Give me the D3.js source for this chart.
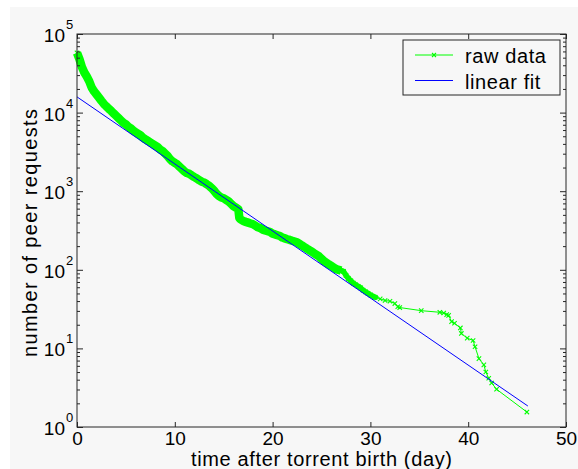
<!DOCTYPE html>
<html>
<head>
<meta charset="utf-8">
<script src="https://cdn.jsdelivr.net/npm/d3@7"></script>
<style>
  body { margin: 0; background: #fff; }
  text { font-family: "Liberation Sans", Arial, sans-serif; fill: #000; }
</style>
</head>
<body>
<svg width="578" height="469"></svg>
<script>
// raw data (day, number of peer requests)
var rawDays = [0, 0.25, 0.5, 0.75, 1, 1.25, 1.5, 1.75, 2, 2.25, 2.5, 2.75, 3, 3.25, 3.5, 3.75,
  4, 4.25, 4.5, 4.75, 5, 5.25, 5.5, 5.75, 6, 6.25, 6.5, 6.75, 7, 7.25, 7.5, 7.75,
  8, 8.25, 8.5, 8.75, 9, 9.25, 9.5, 9.75, 10, 10.25, 10.5, 10.75, 11, 11.25, 11.5, 11.75,
  12, 12.25, 12.5, 12.75, 13, 13.25, 13.5, 13.75, 14, 14.25, 14.5, 14.75, 15, 15.25, 15.5, 15.75,
  16, 16.25, 16.5, 16.6, 16.75, 17, 17.25, 17.5, 17.75, 18, 18.25, 18.5, 18.75, 19, 19.25, 19.5, 19.75,
  20, 20.25, 20.5, 20.75, 21, 21.25, 21.5, 21.75, 22, 22.25, 22.5, 22.75, 23, 23.25, 23.5, 23.75,
  24, 24.25, 24.5, 24.75, 25, 25.25, 25.5, 25.75, 26, 26.25, 26.5, 26.75, 27, 27.25, 27.5, 27.75,
  28, 28.25, 28.5, 28.75, 29, 29.25, 29.5, 29.75, 30, 30.5, 31, 31.5, 32, 32.5, 32.8, 33,
  35.2, 37.1, 37.5, 37.8, 38, 38.3, 38.6, 39.2, 39.3, 39.9, 40.5, 40.7, 41.1, 41.6, 41.8,
  42.1, 42.4, 42.9, 46];
var rawCounts = [57500, 47900, 38000, 32400, 28800, 25100, 20900, 18600, 17000, 15500, 14100, 12900, 12000, 11200, 10500, 9770,
  9120, 8510, 7940, 7410, 7080, 6610, 6310, 5890, 5620, 5370, 5130, 4790, 4570, 4370, 4170, 3980,
  3800, 3630, 3390, 3240, 3020, 2820, 2570, 2400, 2290, 2190, 2040, 1910, 1780, 1700, 1660, 1580,
  1510, 1450, 1380, 1320, 1290, 1230, 1170, 1100, 1020, 933, 871, 832, 813, 776, 741, 692,
  646, 617, 589, 457, 437, 417, 407, 398, 389, 380, 363, 347, 339, 324, 316, 309, 302,
  288, 282, 275, 269, 257, 251, 245, 240, 234, 229, 224, 214, 204, 195, 186, 178,
  170, 162, 155, 148, 138, 129, 123, 117, 112, 107, 102, 100, 97.7, 95.5, 85.1, 77.6,
  72.4, 67.6, 64.6, 61.7, 58.9, 55.0, 52.5, 50.1, 47.9, 44.7, 42.7, 40.7, 39.8, 37.2, 33.9, 33.1,
  30.2, 28.8, 28.2, 26.9, 26.3, 21.9, 20.9, 18.2, 15.5, 13.5, 12.6, 10.5, 7.41, 6.17, 5.01,
  4.17, 3.63, 3.02, 1.55];

// linear fit (straight line on the log axis), its two ends
var fitDays = [0, 46.1];
var fitCounts = [15850, 1.85];

var xTicks = [0, 10, 20, 30, 40, 50];
var yExponents = [0, 1, 2, 3, 4, 5];
var legendLabels = ["raw data", "linear fit"];

var svg = d3.select("svg");
var plotL = 77, plotR = 566, plotT = 34, plotB = 427;

var x = d3.scaleLinear().domain([0, 50]).range([plotL, plotR]);
var y = d3.scaleLog().domain([1, 1e5]).range([plotB, plotT]);

// figure background
svg.append("rect").attr("x", 10).attr("y", 7).attr("width", 568).attr("height", 462)
  .attr("fill", "#f7f7f7");

var raw = rawDays.map(function(d, i) { return { x: d, y: rawCounts[i] }; });
var fit = fitDays.map(function(d, i) { return { x: d, y: fitCounts[i] }; });

var line = d3.line()
  .x(function(d) { return x(d.x); })
  .y(function(d) { return y(d.y); });

// dense part of the raw series: overlapping markers make a thick band
function band(from, to, w, cap) {
  svg.append("path")
    .datum(raw.filter(function(d) { return d.x >= from && d.x <= to; }))
    .attr("d", line)
    .attr("fill", "none")
    .attr("stroke", "#00ff00")
    .attr("stroke-width", w)
    .attr("stroke-linejoin", "round")
    .attr("stroke-linecap", cap);
}
band(0, 27, 8.5, "butt");
band(26.5, 30.5, 5.5, "round");

svg.append("path")
  .datum(raw)
  .attr("d", line)
  .attr("fill", "none")
  .attr("stroke", "#00ff00")
  .attr("stroke-width", 1);

function cross(g, cx, cy, s) {
  g.append("path")
    .attr("d", "M" + (cx - s) + "," + (cy - s) + "L" + (cx + s) + "," + (cy + s) +
               "M" + (cx - s) + "," + (cy + s) + "L" + (cx + s) + "," + (cy - s))
    .attr("stroke", "#00ff00")
    .attr("stroke-width", 1.1)
    .attr("fill", "none");
}

var markers = svg.append("g");
raw.forEach(function(d) { cross(markers, x(d.x), y(d.y), 2.2); });

svg.append("path")
  .datum(fit)
  .attr("d", line)
  .attr("fill", "none")
  .attr("stroke", "#0000ff")
  .attr("stroke-width", 1);

// axes box
svg.append("rect").attr("x", plotL).attr("y", plotT)
  .attr("width", plotR - plotL).attr("height", plotB - plotT)
  .attr("fill", "none").attr("stroke", "#262626").attr("stroke-width", 1);

var minorTicks = [];
yExponents.slice(0, -1).forEach(function(e) {
  for (var k = 2; k <= 9; k++) minorTicks.push(k * Math.pow(10, e));
});
var majorTicks = yExponents.map(function(e) { return Math.pow(10, e); });

function styleAxis(g) {
  g.select(".domain").remove();
  g.selectAll("line").attr("stroke", "#262626");
}

svg.append("g").attr("transform", "translate(0," + plotB + ")")
  .call(d3.axisBottom(x).tickValues(xTicks).tickSizeInner(-5).tickSizeOuter(0).tickPadding(5))
  .call(styleAxis)
  .selectAll("text")
  .attr("font-size", 19).attr("font-family", "Liberation Sans, Arial, sans-serif").attr("fill", "#000");

svg.append("g").attr("transform", "translate(0," + plotT + ")")
  .call(d3.axisTop(x).tickValues(xTicks).tickSizeInner(-5).tickSizeOuter(0).tickFormat(""))
  .call(styleAxis);

[[d3.axisLeft, plotL], [d3.axisRight, plotR]].forEach(function(a) {
  svg.append("g").attr("transform", "translate(" + a[1] + ",0)")
    .call(a[0](y).tickValues(majorTicks).tickSizeInner(-6).tickSizeOuter(0).tickFormat(""))
    .call(styleAxis);
  svg.append("g").attr("transform", "translate(" + a[1] + ",0)")
    .call(a[0](y).tickValues(minorTicks).tickSizeInner(-3).tickSizeOuter(0).tickFormat(""))
    .call(styleAxis);
});

// y tick labels: 10 with superscript exponent
var yLab = svg.append("g");
yExponents.forEach(function(e) {
  var ty = y(Math.pow(10, e));
  yLab.append("text").attr("x", 65).attr("y", ty + 8)
    .attr("text-anchor", "end").attr("font-size", 19).text("10");
  yLab.append("text").attr("x", 66).attr("y", ty - 5)
    .attr("font-size", 13).text(e);
});

// axis titles
svg.append("text")
  .attr("x", (plotL + plotR) / 2).attr("y", 466)
  .attr("text-anchor", "middle").attr("font-size", 20)
  .attr("textLength", 261).attr("lengthAdjust", "spacing")
  .text("time after torrent birth (day)");

svg.append("text")
  .attr("transform", "translate(37,233) rotate(-90)")
  .attr("text-anchor", "middle").attr("font-size", 20)
  .attr("textLength", 248).attr("lengthAdjust", "spacing")
  .text("number of peer requests");

// legend
var lg = svg.append("g");
lg.append("rect").attr("x", 403).attr("y", 40).attr("width", 157).attr("height", 55)
  .attr("fill", "#f7f7f7").attr("stroke", "#262626").attr("stroke-width", 1);
var legendColors = ["#00ff00", "#0000ff"];
legendLabels.forEach(function(t, i) {
  var ly = 55 + i * 25.5;
  lg.append("line").attr("x1", 415).attr("x2", 453).attr("y1", ly).attr("y2", ly)
    .attr("stroke", legendColors[i]).attr("stroke-width", 1);
  if (i === 0) cross(lg, 434, ly, 2);
  lg.append("text").attr("x", 465).attr("y", ly + 8)
    .attr("font-size", 20).attr("letter-spacing", 0.6).text(t);
});
</script>
</body>
</html>
